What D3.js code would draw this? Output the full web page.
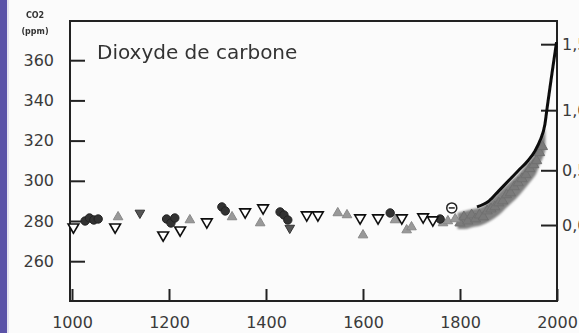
<!DOCTYPE html>
<html>
<head>
<meta charset="utf-8">
<script src="https://cdn.jsdelivr.net/npm/d3@7"></script>
<style>
  body { margin: 0; background: #fbfbfb; }
  svg { display: block; font-family: "DejaVu Sans", sans-serif; }
</style>
</head>
<body>
<div id="chart"></div>
<script>
// ice core records (year, ppm)
const openDownYears = [1003, 1089, 1188, 1223, 1278, 1357, 1394, 1484, 1507, 1594, 1631, 1680, 1724, 1744];
const openDownCO2   = [277, 277, 273, 275.5, 279.5, 284.5, 286.5, 283, 283, 281.5, 281.5, 281.5, 282, 280.5];

const darkCircleYears = [1027, 1036, 1045, 1054, 1195, 1204, 1212, 1309, 1316, 1429, 1437, 1445, 1656, 1759];
const darkCircleCO2   = [280, 281.5, 280.5, 281, 281, 279, 281.5, 287, 285, 284.5, 283, 280.5, 284, 281];

const grayTriYears = [1095, 1243, 1330, 1388, 1548, 1567, 1600, 1666, 1690, 1700, 1765, 1775, 1790];
const grayTriCO2   = [282, 280.5, 282, 279, 284, 283, 273, 280.5, 275.5, 277, 279, 280, 281];

const darkDownYears = [1140, 1449];
const darkDownCO2   = [284, 276.5];

const openCircleYears = [1783];
const openCircleCO2   = [286.5];

// dense firn / ice record, lower and upper edge of the gray band
const bandYears = [1795, 1810, 1827, 1845, 1862, 1880, 1897, 1915, 1930, 1940, 1950, 1958, 1964, 1970, 1976];
const bandLow   = [276, 276, 277, 278, 280, 283, 287, 291, 295, 298, 301, 304, 308, 311, 315];
const bandHigh  = [284, 285, 286, 287, 290, 294, 298, 302, 306, 309, 312, 315, 319, 322, 326];

// individual markers inside the band
const bandMarkYears = [1800, 1808, 1816, 1824, 1832, 1840, 1848, 1856, 1864, 1872, 1880, 1888, 1896,
  1904, 1912, 1920, 1928, 1936, 1944, 1952, 1958, 1964, 1970];
const bandMarkCO2 = [279, 282, 280, 283, 281, 283, 282, 285, 286, 287, 289, 290, 293,
  294, 297, 299, 301, 303, 306, 308, 310, 314, 317];

// atmospheric record (upper edge + direct measurements)
const lineYears = [1835, 1860, 1880, 1900, 1920, 1940, 1955, 1965, 1975, 1980, 1990, 1999];
const lineCO2   = [287, 290, 295, 300, 305, 310, 315, 320, 328, 337, 354, 369];

const yTicks = [260, 280, 300, 320, 340, 360];
const xTicks = [1000, 1200, 1400, 1600, 1800, 2000];
const forcingTicks = [0, 0.5, 1.0, 1.5];
const forcingLabels = ["0,0", "0,5", "1,0", "1,5"];

const width = 579, height = 333;
const plotLeft = 70, plotRight = 557, plotTop = 21, plotBottom = 301;

const svg = d3.select("#chart").append("svg")
  .attr("width", width)
  .attr("height", height);

svg.append("rect").attr("width", width).attr("height", height).attr("fill", "#fbfbfb");
// purple page edge
svg.append("rect").attr("x", 0).attr("y", 0).attr("width", 7).attr("height", height).attr("fill", "#5b53a8");
svg.append("rect").attr("x", 7).attr("y", 0).attr("width", 2).attr("height", height).attr("fill", "#e6e4f0");

const x = d3.scaleLinear().domain([1000, 2000]).range([72, 557]);
const y = d3.scaleLinear().domain([240, 380]).range([301.4, 20]);

const defs = svg.append("defs");
defs.append("filter").attr("id", "soft")
  .append("feGaussianBlur").attr("stdDeviation", 0.6);
defs.append("filter").attr("id", "smear")
  .append("feGaussianBlur").attr("stdDeviation", 1.2);

// left axis
const gy = svg.append("g")
  .attr("transform", "translate(" + plotLeft + ",0)")
  .call(d3.axisLeft(y).tickValues(yTicks).tickSize(-15).tickPadding(16));
gy.select(".domain").remove();
gy.selectAll("line").attr("stroke", "#222").attr("stroke-width", 2);
gy.selectAll("text").attr("font-size", 16).attr("fill", "#3a3a3a").attr("font-family", "DejaVu Sans");

// bottom axis
const gx = svg.append("g")
  .attr("transform", "translate(0," + plotBottom + ")")
  .call(d3.axisBottom(x).tickValues(xTicks).tickFormat(d3.format("d")).tickSize(-12).tickPadding(16));
gx.select(".domain").remove();
gx.selectAll("line").attr("stroke", "#222").attr("stroke-width", 2);
gx.selectAll("text").attr("font-size", 16).attr("fill", "#3a3a3a").attr("font-family", "DejaVu Sans");

// right axis: radiative forcing (log of concentration), labels run off the page edge
const gr = svg.append("g")
  .attr("transform", "translate(" + plotRight + ",0)")
  .call(d3.axisRight(y)
    .tickValues(forcingTicks.map(f => 278 * Math.exp(f / 5.35)))
    .tickFormat((d, i) => forcingLabels[i])
    .tickSize(-16).tickPadding(5));
gr.select(".domain").remove();
gr.selectAll("line").attr("stroke", "#222").attr("stroke-width", 2);
gr.selectAll("text").attr("font-size", 16).attr("fill", "#3a3a3a").attr("font-family", "DejaVu Sans");

// frame
svg.append("rect")
  .attr("x", plotLeft).attr("y", plotTop)
  .attr("width", plotRight - plotLeft).attr("height", plotBottom - plotTop)
  .attr("fill", "none").attr("stroke", "#222").attr("stroke-width", 2);

// gray band as a smeared area
svg.append("path")
  .datum(bandYears)
  .attr("d", d3.area().x(d => x(d)).y0((d, i) => y(bandLow[i])).y1((d, i) => y(bandHigh[i])).curve(d3.curveMonotoneX))
  .attr("fill", "#808080").attr("filter", "url(#smear)");

const marks = svg.append("g").attr("filter", "url(#soft)");

const tri = d3.symbol().type(d3.symbolTriangle).size(40);
const circ = d3.symbol().type(d3.symbolCircle).size(55);

marks.selectAll(".band").data(bandMarkYears).enter().append("path")
  .attr("d", d3.symbol().type(d3.symbolTriangle).size(45))
  .attr("transform", (d, i) => "translate(" + x(d) + "," + y(bandMarkCO2[i]) + ")")
  .attr("fill", "#7a7a7a").attr("stroke", "#707070").attr("stroke-width", 1);

// black atmospheric line
marks.append("path")
  .datum(lineYears)
  .attr("d", d3.line().x(d => x(d)).y((d, i) => y(lineCO2[i])).curve(d3.curveMonotoneX))
  .attr("fill", "none").attr("stroke", "#111").attr("stroke-width", 3);

marks.selectAll(".gtri").data(grayTriYears).enter().append("path")
  .attr("d", tri)
  .attr("transform", (d, i) => "translate(" + x(d) + "," + y(grayTriCO2[i]) + ")")
  .attr("fill", "#999").attr("stroke", "#888");

marks.selectAll(".dcirc").data(darkCircleYears).enter().append("path")
  .attr("d", circ)
  .attr("transform", (d, i) => "translate(" + x(d) + "," + y(darkCircleCO2[i]) + ")")
  .attr("fill", "#333").attr("stroke", "#222");

marks.selectAll(".ddown").data(darkDownYears).enter().append("path")
  .attr("d", tri)
  .attr("transform", (d, i) => "translate(" + x(d) + "," + y(darkDownCO2[i]) + ") rotate(180)")
  .attr("fill", "#555").attr("stroke", "#333");

marks.selectAll(".odown").data(openDownYears).enter().append("path")
  .attr("d", d3.symbol().type(d3.symbolTriangle).size(50))
  .attr("transform", (d, i) => "translate(" + x(d) + "," + y(openDownCO2[i]) + ") rotate(180)")
  .attr("fill", "#fff").attr("stroke", "#111").attr("stroke-width", 1.6);

const oc = marks.selectAll(".ocirc").data(openCircleYears).enter().append("g")
  .attr("transform", (d, i) => "translate(" + x(d) + "," + y(openCircleCO2[i]) + ")");
oc.append("circle").attr("r", 5).attr("fill", "#fff").attr("stroke", "#222").attr("stroke-width", 1.5);
oc.append("line").attr("x1", -3).attr("x2", 3).attr("stroke", "#222").attr("stroke-width", 1.5);

// labels
svg.append("text").attr("x", 97).attr("y", 59)
  .attr("font-size", 20).attr("fill", "#333").text("Dioxyde de carbone");

svg.append("text").attr("x", 35).attr("y", 18).attr("text-anchor", "middle")
  .attr("font-size", 8).attr("font-weight", "bold").attr("fill", "#333").text("CO2");
svg.append("text").attr("x", 35).attr("y", 34).attr("text-anchor", "middle")
  .attr("font-size", 8).attr("font-weight", "bold").attr("fill", "#333").text("(ppm)");
</script>
</body>
</html>
